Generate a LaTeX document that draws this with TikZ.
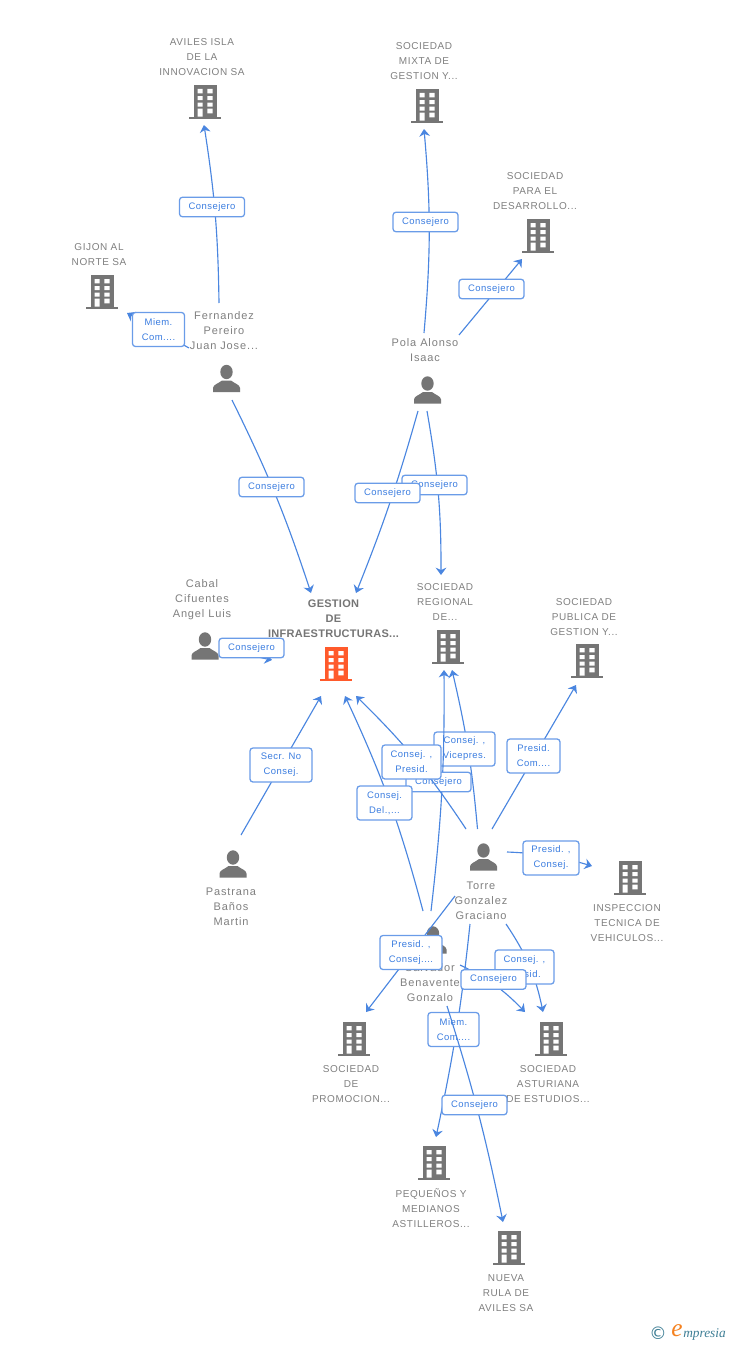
\documentclass[tikz,border=0pt]{standalone}
\usepackage{fontspec}
\usetikzlibrary{arrows.meta,calc}
\setmainfont{Liberation Sans}
\newfontfamily\nmfont[LetterSpace=6]{Liberation Sans}
\newfontfamily\perfont[LetterSpace=8]{Liberation Sans}
\newfontfamily\boldfont[LetterSpace=2.5]{Liberation Sans Bold}
\newfontfamily\lblfont[LetterSpace=5]{Liberation Sans}
\newfontfamily\logofont{Liberation Serif Italic}
\newfontfamily\symfont{DejaVu Sans}
\definecolor{iconGray}{HTML}{757575}
\definecolor{iconOrange}{HTML}{FF5A2B}
\definecolor{txtGray}{HTML}{808080}
\definecolor{edgeBlue}{HTML}{4A86E0}
\definecolor{boxBlue}{HTML}{6A9CE8}
\definecolor{lblBlue}{HTML}{3B7DE0}
\definecolor{logoTeal}{HTML}{3F7F96}
\definecolor{logoOrange}{HTML}{F58220}
\tikzset{
  conn/.style={draw=edgeBlue,line width=.85pt,-{Stealth[length=5.5pt,width=8pt,inset=1.8pt]}},
  lbl/.style={draw=boxBlue,line width=.95pt,fill=white,rounded corners=2.2pt,inner sep=0pt,text=lblBlue,align=center,font=\lblfont\fontsize{7.1}{11.25}\selectfont},
  lone/.style={lbl,minimum width=48.75pt,minimum height=14.6pt},
  ltwo/.style={lbl,minimum height=25.5pt},
  co/.style={inner sep=0pt,text=txtGray,align=center,font=\nmfont\fontsize{7.5}{11.25}\selectfont},
  pe/.style={inner sep=0pt,text=txtGray,align=center,font=\perfont\fontsize{8.25}{11.25}\selectfont},
  hub/.style={inner sep=0pt,text=iconGray,align=center,font=\boldfont\fontsize{8.25}{11.25}\selectfont},
  iconbox/.style={inner sep=0pt,minimum width=24pt,minimum height=25.5pt},
}
\newcommand\bldg[4]{%
  \node[iconbox] (#1) at (#2,#3) {};
  \begin{scope}[shift={(#2,#3)}]
    \fill[#4] (-11,-17) rectangle (11.5,15);
    \fill[#4] (-16,14.7) rectangle (16,17);
    \fill[white] (-7.3,-13) rectangle (-2.3,-8.7) (2.3,-13) rectangle (7.7,-8.7)
      (-7.3,-6) rectangle (-2.3,-2) (2.3,-6) rectangle (7.7,-2)
      (-7.3,.7) rectangle (-2.3,4.7) (2.3,.7) rectangle (7.7,4.7)
      (-7.3,6.7) rectangle (-2.3,14.7) (2.3,6.7) rectangle (7.7,11.3);
  \end{scope}}
\newcommand\pers[3]{%
  \node[iconbox] (#1) at (#2,#3) {};
  \begin{scope}[shift={(#2,#3)}]
    \fill[iconGray] (0,-6.5) ellipse (6.2 and 7.2);
    \fill[iconGray] (-13.5,13.5) -- (-13.5,9.5) .. controls (-13.2,6) and (-8,5) .. (-4.5,2) -- (4.5,2) .. controls (8,5) and (13.2,6) .. (13.5,9.5) -- (13.5,13.5) -- cycle;
  \end{scope}}
% \edgeline{from}{offset}{to}{offset}{bend option}
\newcommand\edgeline[5]{\draw[conn] ($(#1.center)+(#2)$) to[#5] ($(#3.center)+(#4)$);}
\begin{document}
\begin{tikzpicture}[x=.75pt,y=-.75pt]
\useasboundingbox (0,0) rectangle (728,1345);
\fill[white] (0,0) rectangle (728,1345);
% companies
\bldg{aviles}{205}{102}{iconGray}
\bldg{gijon}{102}{292}{iconGray}
\bldg{mixta}{427}{106}{iconGray}
\bldg{para}{538}{236}{iconGray}
\bldg{gestion}{336}{664}{iconOrange}
\bldg{regional}{448}{647}{iconGray}
\bldg{publica}{587}{661}{iconGray}
\bldg{inspeccion}{630}{878}{iconGray}
\bldg{asturiana}{551}{1039}{iconGray}
\bldg{promocion}{354}{1039}{iconGray}
\bldg{pequenos}{434}{1163}{iconGray}
\bldg{rula}{509}{1248}{iconGray}
% people
\pers{fern}{226.5}{378.5}
\pers{pola}{427.5}{390}
\pers{cabal}{205}{646}
\pers{pastrana}{233}{864}
\pers{torre}{483.5}{857}
\pers{salvador}{433}{940}
% names
\node[co] (taviles) at (202,57) {AVILES ISLA\\DE LA\\INNOVACION SA};
\node[co] (tgijon) at (99,254.5) {GIJON AL\\NORTE SA};
\node[pe] (tfern) at (224,331) {Fernandez\\Pereiro\\Juan Jose...};
\node[co] (tmixta) at (424,61) {SOCIEDAD\\MIXTA DE\\GESTION Y...};
\node[co] (tpara) at (535,191) {SOCIEDAD\\PARA EL\\DESARROLLO...};
\node[pe] (tpola) at (425,350.5) {Pola Alonso\\Isaac};
\node[pe] (tcabal) at (202,600) {Cabal\\Cifuentes\\Angel Luis};
\node[hub] (tgestion) at (333.5,619) {GESTION\\DE\\INFRAESTRUCTURAS...};
\node[co] (tregional) at (445,602) {SOCIEDAD\\REGIONAL\\DE...};
\node[co] (tpublica) at (584,617) {SOCIEDAD\\PUBLICA DE\\GESTION Y...};
\node[pe] (tpastrana) at (231,907) {Pastrana\\Baños\\Martin};
\node[pe] (ttorre) at (481,901) {Torre\\Gonzalez\\Graciano};
\node[co] (tinspeccion) at (627,923) {INSPECCION\\TECNICA DE\\VEHICULOS...};
\node[pe] (tsalvador) at (430,983) {Salvador\\Benavente\\Gonzalo};
\node[co] (tpromocion) at (351,1084) {SOCIEDAD\\DE\\PROMOCION...};
\node[co] (tasturiana) at (548,1084) {SOCIEDAD\\ASTURIANA\\DE ESTUDIOS...};
\node[co] (tpequenos) at (431,1208) {PEQUEÑOS Y\\MEDIANOS\\ASTILLEROS...};
\node[co] (trula) at (506,1293) {NUEVA\\RULA DE\\AVILES SA};
% connectors and their labels, in stacking order
\edgeline{fern}{-7.5,-75.5}{aviles}{-1,23}{bend right=4}
\node[lone] (l1) at (212,207) {Consejero};
\edgeline{fern}{-37.5,-30.5}{gijon}{25,21}{bend left=0}
\node[ltwo,minimum width=39pt] (l2) at (158.5,329.5) {Miem.\\Com....};
\edgeline{fern}{5.5,21.5}{gestion}{-25,-71}{bend left=4}
\node[lone] (l3) at (271.5,487) {Consejero};
\edgeline{pola}{-3.5,-57}{mixta}{-3,23}{bend right=5}
\node[lone] (l4) at (425.5,222) {Consejero};
\edgeline{pola}{31.5,-55}{para}{-16,23}{bend left=0}
\node[lone] (l5) at (491.5,289) {Consejero};
\edgeline{pola}{-0.5,21}{regional}{-7,-72}{bend left=5}
\node[lone] (l7) at (434.5,485) {Consejero};
\edgeline{pola}{-9.5,21}{gestion}{20,-71}{bend left=3}
\node[lone] (l6) at (387.5,493) {Consejero};
\edgeline{cabal}{20,4}{gestion}{-64,-4}{bend left=0}
\node[lone] (l8) at (251.5,648) {Consejero};
\edgeline{pastrana}{8,-29}{gestion}{-15,32}{bend left=0}
\node[ltwo,minimum width=46.5pt] (l9) at (281,765) {Secr. No\\Consej.};
\edgeline{torre}{-6,-28}{regional}{4,23}{bend right=4}
\node[ltwo,minimum width=45.75pt] (l13) at (464.5,749) {Consej. ,\\Vicepres.};
\edgeline{salvador}{-2,-29}{regional}{-4,23}{bend right=3.5}
\node[lone] (l12) at (438.5,782) {Consejero};
\edgeline{torre}{-17.5,-28}{gestion}{20,32}{bend right=6}
\node[ltwo,minimum width=44.25pt] (l10) at (411.5,762) {Consej. ,\\Presid.};
\edgeline{salvador}{-10,-29}{gestion}{9,32}{bend right=5}
\node[ltwo,minimum width=41.25pt] (l11) at (384.5,803) {Consej.\\Del.,...};
\edgeline{torre}{8.5,-28}{publica}{-11,24}{bend left=0}
\node[ltwo,minimum width=39.75pt] (l14) at (533.5,756) {Presid.\\Com....};
\edgeline{torre}{23.5,-5}{inspeccion}{-38,-12}{bend left=7}
\node[ltwo,minimum width=42pt] (l15) at (551,858) {Presid. ,\\Consej.};
\edgeline{torre}{-28.5,39}{promocion}{12,-27}{bend left=0}
\node[ltwo,minimum width=46.5pt] (l16) at (411,952.5) {Presid. ,\\Consej....};
\edgeline{torre}{22.5,67}{asturiana}{-8,-27}{bend left=11}
\node[ltwo,minimum width=44.25pt] (l17) at (524.5,967) {Consej. ,\\Presid.};
\edgeline{torre}{-13.5,67}{pequenos}{2,-26}{bend left=3}
\node[ltwo,minimum width=38.25pt] (l19) at (453.5,1029.5) {Miem.\\Com....};
\edgeline{salvador}{27,25}{asturiana}{-26,-27}{bend left=10}
\node[lone] (l18) at (493.5,979.5) {Consejero};
\edgeline{salvador}{14,66}{rula}{-6,-26}{bend left=3}
\node[lone] (l20) at (474.5,1105) {Consejero};
% logo
\node[inner sep=0pt,text=logoTeal,font=\symfont\fontsize{13}{13}\selectfont] (logoc) at (658,1333) {©};
\node[inner sep=0pt,text=logoOrange,font=\logofont\fontsize{19}{19}\selectfont] (logoe) at (677,1331) {e};
\node[inner sep=0pt,anchor=base west,text=logoTeal,font=\logofont\fontsize{10}{10}\selectfont] (logom) at (683,1337) {mpresia};
\end{tikzpicture}
\end{document}
